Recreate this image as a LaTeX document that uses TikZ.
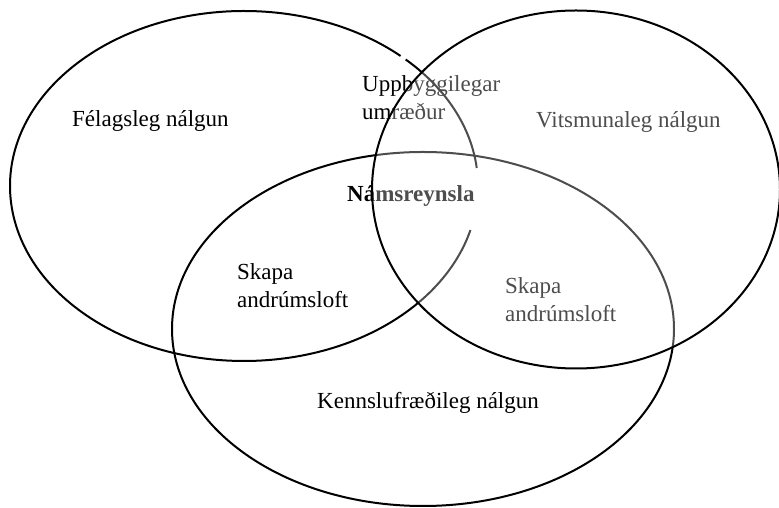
\documentclass[tikz,border=0pt]{standalone}
\usepackage{fontspec}
\setmainfont{Liberation Serif}

\begin{document}
\begin{tikzpicture}[x=1pt,y=1pt,
    ring/.style={line width=2pt},
    lbl/.style={inner sep=0pt,anchor=base west,align=left,font=\fontsize{23}{28}\selectfont}]
    \useasboundingbox (0,0) rectangle (779,508);

    \draw[ring,shift={(244,322)}](48:234pt and 175pt) arc[start angle=48,end angle=345.4,x radius=234pt,y radius=175pt];
    \draw[ring,shift={(244,322)}](5.9:234pt and 175pt) arc[start angle=5.9,end angle=46.3,x radius=234pt,y radius=175pt];
    \draw[ring](423,179) ellipse[x radius=251pt,y radius=177pt];

    \node[lbl](felag) at (72,381){Félagsleg nálgun};
    \node[lbl](uppb) at (362,388){Uppbyggilegar\\umræður};
    \node[lbl](vits) at (536,380){Vitsmunaleg nálgun};
    \node[lbl,font=\fontsize{23}{28}\selectfont\bfseries](nams) at (347,306){Námsreynsla};
    \node[lbl](skapaA) at (237,200){Skapa\\andrúmsloft};
    \node[lbl](skapaB) at (505,186){Skapa\\andrúmsloft};
    \node[lbl](kenn) at (317,99){Kennslufræðileg nálgun};

    \draw[ring,fill=white,fill opacity=0.3](576,318.5) ellipse[x radius=204pt,y radius=179pt];
\end{tikzpicture}
\end{document}
